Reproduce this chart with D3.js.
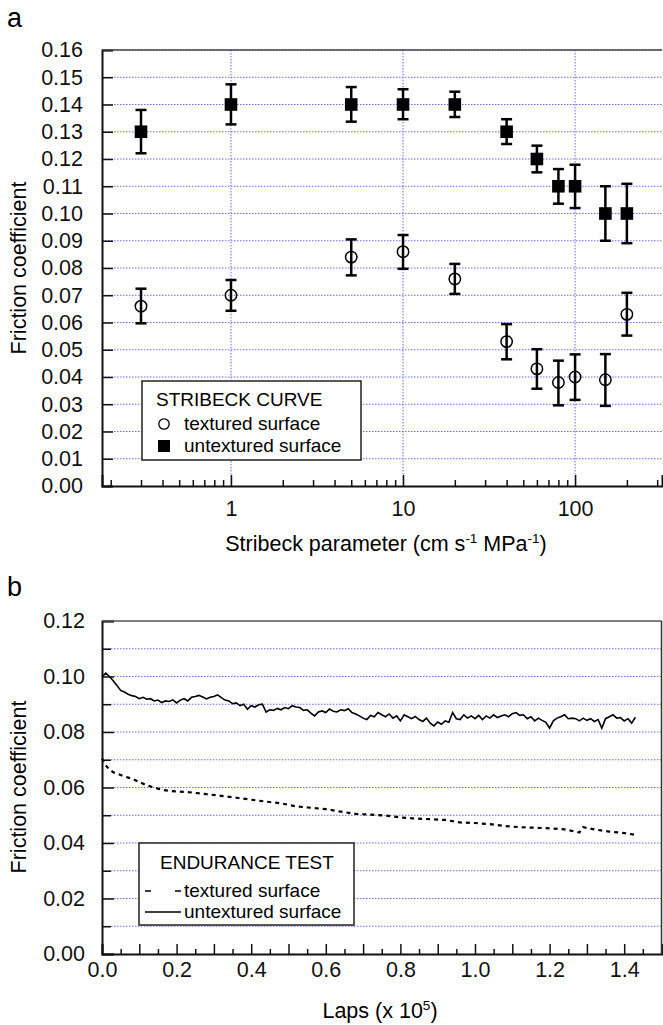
<!DOCTYPE html>
<html>
<head>
<meta charset="utf-8">
<script src="https://cdn.jsdelivr.net/npm/d3@7"></script>
<style>
  body { margin: 0; background: #fff; }
  svg { font-family: "Liberation Sans", Arial, sans-serif; }
</style>
</head>
<body>
<div id="chart"></div>
<script>
// ---- data, panel a (Stribeck curve) ----
var stribeckX = [0.3, 1, 5, 10, 20, 40, 60, 80, 100, 150, 200];
var texturedMean = [0.066, 0.070, 0.084, 0.086, 0.076, 0.053, 0.043, 0.038, 0.040, 0.039, 0.063];
var texturedLow  = [0.0597, 0.0643, 0.0773, 0.0797, 0.0705, 0.0465, 0.0357, 0.0296, 0.0316, 0.0294, 0.0552];
var texturedHigh = [0.0724, 0.0756, 0.0905, 0.0921, 0.0815, 0.0594, 0.0502, 0.0460, 0.0483, 0.0484, 0.0709];
var untexturedMean = [0.130, 0.140, 0.140, 0.140, 0.140, 0.130, 0.120, 0.110, 0.110, 0.100, 0.100];
var untexturedLow  = [0.1221, 0.1327, 0.1337, 0.1346, 0.1354, 0.1255, 0.1151, 0.1036, 0.1020, 0.0900, 0.0891];
var untexturedHigh = [0.1380, 0.1474, 0.1464, 0.1456, 0.1447, 0.1346, 0.1249, 0.1163, 0.1179, 0.1100, 0.1109];
var stribeckMajor = [1, 10, 100];
var stribeckMinor = [0.2, 0.3, 0.4, 0.5, 0.6, 0.7, 0.8, 0.9, 2, 3, 4, 5, 6, 7, 8, 9,
                     20, 30, 40, 50, 60, 70, 80, 90, 200, 300];

// ---- data, panel b (endurance test) ----
// untextured surface, one reading every 0.01 x 10^5 laps from 0
var untexturedRun = [
  0.0998, 0.1012, 0.1000, 0.0985, 0.0968, 0.0950, 0.0944, 0.0936, 0.0931, 0.0928,
  0.0920, 0.0925, 0.0918, 0.0920, 0.0912, 0.0915, 0.0906, 0.0912, 0.0910, 0.0916,
  0.0905, 0.0915, 0.0920, 0.0912, 0.0925, 0.0928, 0.0932, 0.0926, 0.0919, 0.0925,
  0.0928, 0.0934, 0.0924, 0.0915, 0.0912, 0.0902, 0.0905, 0.0895, 0.0900, 0.0882,
  0.0895, 0.0890, 0.0898, 0.0900, 0.0872, 0.0880, 0.0878, 0.0885, 0.0880, 0.0888,
  0.0884, 0.0895, 0.0890, 0.0888, 0.0878, 0.0880, 0.0868, 0.0858, 0.0872, 0.0876,
  0.0870, 0.0883, 0.0875, 0.0872, 0.0880, 0.0877, 0.0884, 0.0870, 0.0865, 0.0858,
  0.0850, 0.0845, 0.0860, 0.0855, 0.0870, 0.0862, 0.0855, 0.0865, 0.0850, 0.0858,
  0.0840, 0.0862, 0.0855, 0.0848, 0.0856, 0.0845, 0.0838, 0.0850, 0.0832, 0.0822,
  0.0836, 0.0828, 0.0840, 0.0835, 0.0870, 0.0848, 0.0845, 0.0862, 0.0850, 0.0858,
  0.0848, 0.0860, 0.0845, 0.0858, 0.0850, 0.0862, 0.0852, 0.0858, 0.0862, 0.0855,
  0.0866, 0.0870, 0.0860, 0.0862, 0.0848, 0.0855, 0.0840, 0.0850, 0.0842, 0.0835,
  0.0814, 0.0840, 0.0850, 0.0855, 0.0862, 0.0848, 0.0850, 0.0848, 0.0840, 0.0850,
  0.0842, 0.0848, 0.0838, 0.0845, 0.0814, 0.0848, 0.0855, 0.0862, 0.0850, 0.0852,
  0.0840, 0.0848, 0.0832, 0.0853
];
var texturedLaps = [0.00, 0.01, 0.02, 0.03, 0.04, 0.05, 0.06, 0.08, 0.10, 0.12, 0.14, 0.16, 0.18, 0.20,
  0.24, 0.28, 0.32, 0.36, 0.40, 0.44, 0.48, 0.52, 0.56, 0.60, 0.64, 0.68, 0.72, 0.76, 0.80,
  0.84, 0.88, 0.92, 0.96, 1.00, 1.04, 1.08, 1.12, 1.16, 1.20, 1.24, 1.28, 1.29, 1.32, 1.36, 1.40, 1.43];
var texturedRun = [0.0705, 0.0680, 0.0665, 0.0655, 0.0650, 0.0645, 0.0640, 0.0632, 0.0620, 0.0608, 0.0600, 0.0592, 0.0588, 0.0586,
  0.0582, 0.0576, 0.0570, 0.0563, 0.0556, 0.0549, 0.0543, 0.0532, 0.0527, 0.0522, 0.0513, 0.0505, 0.0502, 0.0499, 0.0492,
  0.0488, 0.0486, 0.0483, 0.0474, 0.0472, 0.0468, 0.0461, 0.0457, 0.0455, 0.0453, 0.0449, 0.0438, 0.0457, 0.0449, 0.0441, 0.0436, 0.0429];

var gridColor = "#6b6bf5";
var tickFont = "21.5px", legFont = "19px";
var W = 663, H = 1025;

var svg = d3.select("#chart")
  .append("svg")
    .attr("width", W)
    .attr("height", H)

// ================= panel a =================
var xa = d3.scaleLog().domain([0.178, 320]).range([102, 662]);
var ya = d3.scaleLinear().domain([0, 0.16]).range([486, 50]);

svg.append("text").attr("x", 7).attr("y", 27).style("font-size", "27px").text("a");

var ga = svg.append("g");

// grid
ga.append("g").selectAll("line")
  .data(d3.range(1, 17).map(function(i) { return i / 100; }))
  .enter().append("line")
    .attr("x1", 102).attr("x2", 662)
    .attr("y1", function(d) { return ya(d); }).attr("y2", function(d) { return ya(d); })
    .attr("stroke", gridColor).attr("stroke-width", 1).attr("stroke-dasharray", "1.5,1.5")
ga.append("g").selectAll("line")
  .data(stribeckMajor)
  .enter().append("line")
    .attr("x1", function(d) { return xa(d); }).attr("x2", function(d) { return xa(d); })
    .attr("y1", 50).attr("y2", 486)
    .attr("stroke", gridColor).attr("stroke-width", 1).attr("stroke-dasharray", "1.5,1.5")

// legend box (drawn over the grid)
var lega = ga.append("g");
lega.append("rect").attr("x", 142).attr("y", 381).attr("width", 219).attr("height", 79)
  .attr("fill", "#fff").attr("stroke", "#222").attr("stroke-width", 1.5)
lega.append("text").attr("x", 156).attr("y", 406).style("font-size", legFont).text("STRIBECK CURVE")
lega.append("circle").attr("cx", 164).attr("cy", 424).attr("r", 5.2)
  .attr("fill", "#fff").attr("stroke", "#000").attr("stroke-width", 1.3)
lega.append("text").attr("x", 184).attr("y", 430).style("font-size", legFont).text("textured surface")
lega.append("rect").attr("x", 158).attr("y", 440).attr("width", 12).attr("height", 12).attr("fill", "#000")
lega.append("text").attr("x", 184).attr("y", 452).style("font-size", legFont).text("untextured surface")

// axes
ga.append("g")
  .attr("transform", "translate(102,0)")
  .call(d3.axisLeft(ya).tickValues(d3.range(0, 17).map(function(i) { return i / 100; }))
    .tickFormat(d3.format(".2f")).tickSize(-11).tickPadding(19))
  .call(function(g) {
    g.select(".domain").attr("stroke", "#111").attr("stroke-width", 2);
    g.selectAll(".tick line").attr("stroke", "#111").attr("stroke-width", 1.5);
    g.selectAll("text").style("font-size", tickFont).attr("fill", "#111").attr("font-family", null);
  })
ga.append("g")
  .attr("transform", "translate(0,486)")
  .call(d3.axisBottom(xa).tickValues(stribeckMinor).tickFormat("").tickSize(-6))
  .call(function(g) {
    g.select(".domain").remove();
    g.selectAll(".tick line").attr("stroke", "#111").attr("stroke-width", 1.5);
  })
ga.append("g")
  .attr("transform", "translate(0,486)")
  .call(d3.axisBottom(xa).tickValues(stribeckMajor).tickFormat(d3.format("d")).tickSize(-11).tickPadding(15))
  .call(function(g) {
    g.select(".domain").attr("stroke", "#111").attr("stroke-width", 2);
    g.selectAll(".tick line").attr("stroke", "#111").attr("stroke-width", 1.5);
    g.selectAll("text").style("font-size", tickFont).attr("fill", "#111").attr("font-family", null);
  })
ga.append("line").attr("x1", 102).attr("x2", 662).attr("y1", 50).attr("y2", 50)
  .attr("stroke", "#444").attr("stroke-width", 1.5)

// error bars + markers
function errorBars(g, mean, low, high) {
  var bars = g.append("g").selectAll("g")
    .data(stribeckX.map(function(x, i) { return {x: x, m: mean[i], lo: low[i], hi: high[i]}; }))
    .enter().append("g")
      .attr("stroke", "#000").attr("stroke-width", 2.5)
  bars.append("line")
    .attr("x1", function(d) { return xa(d.x); }).attr("x2", function(d) { return xa(d.x); })
    .attr("y1", function(d) { return ya(d.lo); }).attr("y2", function(d) { return ya(d.hi); })
  bars.append("line")
    .attr("x1", function(d) { return xa(d.x) - 5.5; }).attr("x2", function(d) { return xa(d.x) + 5.5; })
    .attr("y1", function(d) { return ya(d.lo); }).attr("y2", function(d) { return ya(d.lo); })
  bars.append("line")
    .attr("x1", function(d) { return xa(d.x) - 5.5; }).attr("x2", function(d) { return xa(d.x) + 5.5; })
    .attr("y1", function(d) { return ya(d.hi); }).attr("y2", function(d) { return ya(d.hi); })
  return bars;
}
errorBars(ga, untexturedMean, untexturedLow, untexturedHigh)
  .append("rect")
    .attr("x", function(d) { return xa(d.x) - 6.3; }).attr("y", function(d) { return ya(d.m) - 6.3; })
    .attr("width", 12.6).attr("height", 12.6).attr("fill", "#000").attr("stroke", "none")
errorBars(ga, texturedMean, texturedLow, texturedHigh)
  .append("circle")
    .attr("cx", function(d) { return xa(d.x); }).attr("cy", function(d) { return ya(d.m); })
    .attr("r", 5.7).attr("fill", "none").attr("stroke-width", 1.5)

// axis titles
svg.append("text")
  .attr("transform", "translate(26,268) rotate(-90)")
  .attr("text-anchor", "middle").style("font-size", tickFont)
  .text("Friction coefficient")
var xta = svg.append("text").attr("x", 386).attr("y", 551).attr("text-anchor", "middle").style("font-size", tickFont)
xta.append("tspan").text("Stribeck parameter (cm s")
xta.append("tspan").attr("dy", -8).style("font-size", "13.5px").text("-1")
xta.append("tspan").attr("dy", 8).text(" MPa")
xta.append("tspan").attr("dy", -8).style("font-size", "13.5px").text("-1")
xta.append("tspan").attr("dy", 8).text(")")

// ================= panel b =================
var xb = d3.scaleLinear().domain([0, 1.5]).range([102, 661.5]);
var yb = d3.scaleLinear().domain([0, 0.12]).range([954, 621]);

svg.append("text").attr("x", 7).attr("y", 596).style("font-size", "27px").text("b");

var gb = svg.append("g");

gb.append("g").selectAll("line")
  .data(d3.range(1, 12).map(function(i) { return i / 100; }))
  .enter().append("line")
    .attr("x1", 102).attr("x2", 661.5)
    .attr("y1", function(d) { return yb(d); }).attr("y2", function(d) { return yb(d); })
    .attr("stroke", gridColor).attr("stroke-width", 1).attr("stroke-dasharray", "1.5,1.5")

var lineB = d3.line()
  .x(function(d) { return xb(d[0]); })
  .y(function(d) { return yb(d[1]); })

gb.append("path")
  .datum(untexturedRun.map(function(v, i) { return [i / 100, v]; }))
  .attr("d", lineB)
  .attr("fill", "none").attr("stroke", "#000").attr("stroke-width", 1.6)
gb.append("path")
  .datum(texturedLaps.map(function(x, i) { return [x, texturedRun[i]]; }))
  .attr("d", lineB)
  .attr("fill", "none").attr("stroke", "#000").attr("stroke-width", 2.2).attr("stroke-dasharray", "4,4")

// legend
var legb = gb.append("g");
legb.append("rect").attr("x", 139).attr("y", 843).attr("width", 215).attr("height", 82)
  .attr("fill", "#fff").attr("stroke", "#222").attr("stroke-width", 1.5)
legb.append("text").attr("x", 160).attr("y", 869).style("font-size", legFont).text("ENDURANCE TEST")
legb.append("line").attr("x1", 145).attr("x2", 181).attr("y1", 891).attr("y2", 891)
  .attr("stroke", "#000").attr("stroke-width", 1.3).attr("stroke-dasharray", "6,24")
legb.append("text").attr("x", 184).attr("y", 897).style("font-size", legFont).text("textured surface")
legb.append("line").attr("x1", 145).attr("x2", 181).attr("y1", 912).attr("y2", 912)
  .attr("stroke", "#000").attr("stroke-width", 1.3)
legb.append("text").attr("x", 184).attr("y", 918).style("font-size", legFont).text("untextured surface")

// axes
gb.append("g")
  .attr("transform", "translate(102,0)")
  .call(d3.axisLeft(yb).tickValues(d3.range(1, 12, 2).map(function(i) { return i / 100; }))
    .tickFormat("").tickSize(-9))
  .call(function(g) {
    g.select(".domain").remove();
    g.selectAll(".tick line").attr("stroke", "#111").attr("stroke-width", 1.5);
  })
gb.append("g")
  .attr("transform", "translate(102,0)")
  .call(d3.axisLeft(yb).tickValues(d3.range(0, 13, 2).map(function(i) { return i / 100; }))
    .tickFormat(d3.format(".2f")).tickSize(-12).tickPadding(17))
  .call(function(g) {
    g.select(".domain").attr("stroke", "#111").attr("stroke-width", 2);
    g.selectAll(".tick line").attr("stroke", "#111").attr("stroke-width", 1.5);
    g.selectAll("text").style("font-size", tickFont).attr("fill", "#111").attr("font-family", null);
  })
gb.append("g")
  .attr("transform", "translate(0,954)")
  .call(d3.axisBottom(xb).tickValues(d3.range(1, 30, 2).map(function(i) { return i / 20; }))
    .tickFormat("").tickSize(-5))
  .call(function(g) {
    g.select(".domain").remove();
    g.selectAll(".tick line").attr("stroke", "#111").attr("stroke-width", 1.5);
  })
gb.append("g")
  .attr("transform", "translate(0,954)")
  .call(d3.axisBottom(xb).tickValues(d3.range(0, 15).map(function(i) { return i / 10; }))
    .tickFormat(function(d) { return Math.round(d * 10) % 2 === 0 ? d3.format(".1f")(d) : ""; })
    .tickSize(-10).tickPadding(8))
  .call(function(g) {
    g.select(".domain").attr("stroke", "#111").attr("stroke-width", 2);
    g.selectAll(".tick line").attr("stroke", "#111").attr("stroke-width", 1.5);
    g.selectAll("text").style("font-size", tickFont).attr("fill", "#111").attr("font-family", null);
  })
gb.append("line").attr("x1", 102).attr("x2", 661.5).attr("y1", 621).attr("y2", 621)
  .attr("stroke", "#555").attr("stroke-width", 1.5)
gb.append("line").attr("x1", 661.5).attr("x2", 661.5).attr("y1", 621).attr("y2", 954)
  .attr("stroke", "#333").attr("stroke-width", 1.5)

svg.append("text")
  .attr("transform", "translate(26,787) rotate(-90)")
  .attr("text-anchor", "middle").style("font-size", tickFont)
  .text("Friction coefficient")
var xtb = svg.append("text").attr("x", 380).attr("y", 1018).attr("text-anchor", "middle").style("font-size", tickFont)
xtb.append("tspan").text("Laps (x 10")
xtb.append("tspan").attr("dy", -8).style("font-size", "13.5px").text("5")
xtb.append("tspan").attr("dy", 8).text(")")
</script>
</body>
</html>
